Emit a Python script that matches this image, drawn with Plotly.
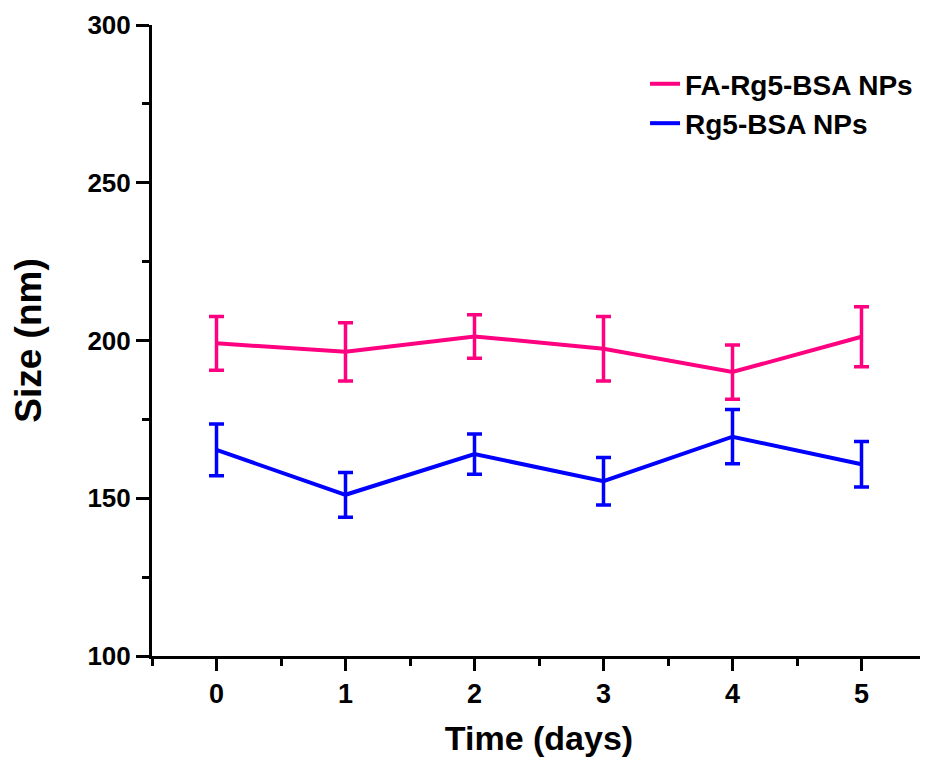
import plotly.graph_objects as go

days = [0, 1, 2, 3, 4, 5]
fa_size = [199.1, 196.4, 201.3, 197.4, 190.0, 201.2]
fa_err = [8.5, 9.2, 6.9, 10.2, 8.6, 9.5]
rg_size = [165.3, 151.1, 164.0, 155.4, 169.5, 160.8]
rg_err = [8.2, 7.1, 6.4, 7.5, 8.6, 7.2]
y_ticks = [100, 150, 200, 250, 300]

FONT = "Liberation Sans, Arial, sans-serif"
PINK = "#FF0080"
BLUE = "#0000FF"

fig = go.Figure()
fig.add_trace(go.Scatter(
    x=days, y=fa_size, mode="lines", name="FA-Rg5-BSA NPs",
    line=dict(color=PINK, width=4),
    error_y=dict(type="data", array=fa_err, visible=True, color=PINK, thickness=3.5, width=7.5),
))
fig.add_trace(go.Scatter(
    x=days, y=rg_size, mode="lines", name="Rg5-BSA NPs",
    line=dict(color=BLUE, width=4),
    error_y=dict(type="data", array=rg_err, visible=True, color=BLUE, thickness=3.5, width=7.5),
))

fig.update_layout(
    width=919, height=749,
    margin=dict(l=144, r=1, t=17, b=101),
    paper_bgcolor="white", plot_bgcolor="white",
    font=dict(family=FONT, color="black", size=26, weight="bold"),
    showlegend=True,
    legend=dict(x=0.637, y=0.946, xanchor="left", yanchor="top",
                font=dict(size=28, family=FONT, weight="bold", color="black"),
                bgcolor="rgba(0,0,0,0)", tracegroupgap=0, itemwidth=30),
    xaxis=dict(
        range=[-0.5, 5.5], tickmode="array", tickvals=days, ticktext=[str(d) for d in days],
        showline=True, linecolor="black", linewidth=3, mirror=False,
        ticks="outside", ticklen=12, tickwidth=3, tickcolor="black",
        minor=dict(tickmode="linear", tick0=-0.5, dtick=1, ticks="outside", ticklen=7, tickwidth=3, tickcolor="black"),
        showgrid=False, zeroline=False,
        tickfont=dict(size=27, family=FONT, weight="bold"),
        title=dict(text="Time (days)", font=dict(size=34, family=FONT, weight="bold"), standoff=20),
    ),
    yaxis=dict(
        range=[100, 300], tickmode="array", tickvals=y_ticks,
        showline=True, linecolor="black", linewidth=3, mirror=False,
        ticks="outside", ticklen=13, tickwidth=3, tickcolor="black",
        minor=dict(tickmode="linear", tick0=125, dtick=50, ticks="outside", ticklen=7, tickwidth=3, tickcolor="black"),
        showgrid=False, zeroline=False,
        tickfont=dict(size=26, family=FONT, weight="bold"),
        title=dict(text="Size (nm)", font=dict(size=37, family=FONT, weight="bold"), standoff=38),
    ),
)

fig.write_html("out.html")
